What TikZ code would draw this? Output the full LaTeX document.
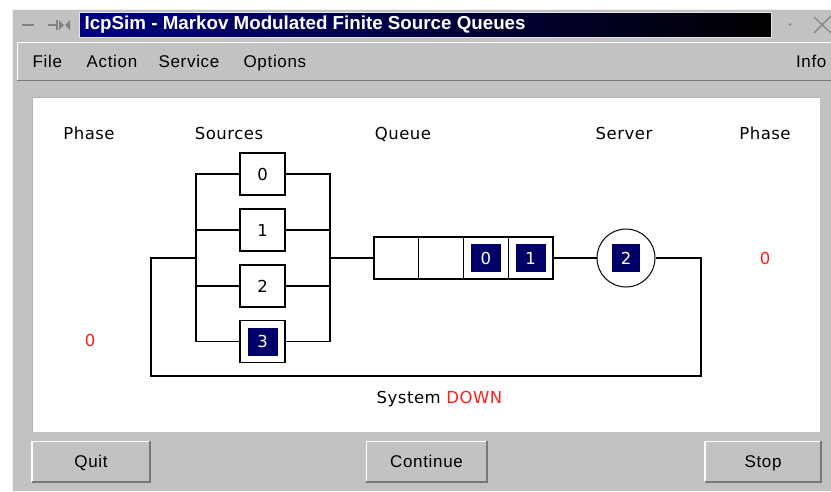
\documentclass[tikz,border=0pt]{standalone}
\usepackage{fontspec}
\setmainfont{DejaVu Sans}
\newfontfamily\diafont[LetterSpace=3]{DejaVu Sans}
\newfontfamily\menufont[LetterSpace=4]{Liberation Sans}
\newfontfamily\titlefont{Liberation Sans}
\definecolor{guigray}{RGB}{194,194,194}
\definecolor{darkedge}{RGB}{120,120,120}
\definecolor{navyq}{RGB}{0,0,104}
\definecolor{titlenavy}{RGB}{0,0,128}
\definecolor{redtxt}{RGB}{255,30,30}
\definecolor{icongray}{RGB}{130,130,130}
\begin{document}
\begin{tikzpicture}[x=1pt,y=-1pt,
  line width=1.2pt,
  dtext/.style={font=\diafont\fontsize{16.5}{18}\selectfont, inner sep=0pt, text height=12pt, text depth=0pt},
  mtext/.style={font=\menufont\fontsize{17}{19}\selectfont, inner sep=0pt, text height=12.2pt, text depth=0pt},
  srcbox/.style={draw=black, fill=white, minimum width=45pt, minimum height=42pt, inner sep=0pt, font=\diafont\fontsize{16.5}{18}\selectfont, text height=12pt, text depth=0pt},
  qcell/.style={draw=black, fill=white, minimum width=44.75pt, minimum height=42pt, inner sep=0pt},
  token/.style={fill=navyq, text=white, minimum width=30pt, minimum height=28pt, inner sep=0pt, font=\diafont\fontsize{16.5}{18}\selectfont, text height=12pt, text depth=0pt},
  wire/.style={draw=black, line width=1.2pt},
  button/.style={fill=guigray, minimum width=#1, minimum height=39pt, inner sep=0pt, font=\menufont\fontsize{17}{19}\selectfont, text height=12.2pt, text depth=0pt}
]
\useasboundingbox (0,0) rectangle (831,491);
% window background
\fill[white] (0,0) rectangle (831,491);
\fill[guigray] (12,9) rectangle (831,491);
\draw[line width=1pt, white!90!gray] (12.5,491) -- (12.5,9.5) -- (831,9.5);
% title bar
\draw[icongray, line width=1.4pt] (22,25) -- (34,25);
\draw[icongray, line width=1.2pt] (48,25) -- (57,25) (57,20) -- (57,30);
\fill[icongray] (59,20) -- (64,25) -- (59,30) -- cycle (70,20) -- (65,25) -- (70,30) -- cycle;
\shade[left color=titlenavy, right color=black] (79,12) rectangle (771,37.5);
\draw[line width=0.8pt, white!80!gray] (79,12) rectangle (771,37.5);
\node[anchor=west, inner sep=0pt, text=white] (title) at (84,24.5)
  {\resizebox{441pt}{!}{\titlefont\fontsize{19}{21}\bfseries IcpSim - Markov Modulated Finite Source Queues}};
\fill[icongray] (790,24.5) circle (1.3pt);
\draw[icongray, line width=1.2pt] (814,17) -- (831,33) (831,16) -- (814,33);
% menu bar
\fill[guigray] (17,42) rectangle (831,81);
\draw[white, line width=1.5pt] (17.5,81) -- (17.5,42.5) -- (831,42.5);
\draw[darkedge, line width=1.8pt] (17,80.5) -- (831,80.5);
\node[mtext, anchor=west] (mfile) at (32,61) {File};
\node[mtext, anchor=west] (maction) at (86,61) {Action};
\node[mtext, anchor=west] (mservice) at (158,61) {Service};
\node[mtext, anchor=west] (moptions) at (243,61) {Options};
\node[mtext, anchor=east] (minfo) at (827,61) {Info};
% canvas
\fill[white] (32,97) rectangle (820,432);
\draw[line width=0.8pt, gray!60] (32,432) -- (32,97) -- (820,97);
% header labels
\node[dtext] (hphase1) at (89,133.5) {Phase};
\node[dtext] (hsources) at (229,133.5) {Sources};
\node[dtext] (hqueue) at (403,133.5) {Queue};
\node[dtext] (hserver) at (624,133.5) {Server};
\node[dtext] (hphase2) at (765,133.5) {Phase};
% sources
\node[srcbox] (src0) at (262.5,174) {0};
\node[srcbox] (src1) at (262.5,230) {1};
\node[srcbox] (src2) at (262.5,286) {2};
\node[srcbox] (src3) at (262.5,341.5) {};
\node[token] (tok3) at (src3.center) {3};
\coordinate (busL) at (196,258);
\coordinate (busR) at (330,258);
\coordinate (feedL) at (151,258);
\coordinate (lc) at (151,376);
\coordinate (rc) at (701,376);
\draw[wire] (src0.west) -| (busL) |- (src3.west);
\draw[wire] (src1.west) -- (src1.west -| busL);
\draw[wire] (src2.west) -- (src2.west -| busL);
\draw[wire] (src0.east) -| (busR) |- (src3.east);
\draw[wire] (src1.east) -- (src1.east -| busR);
\draw[wire] (src2.east) -- (src2.east -| busR);
% queue
\node[qcell] (q1) at (396.4,258) {};
\node[qcell] (q2) at (441.1,258) {};
\node[qcell] (q3) at (485.9,258) {};
\node[qcell] (q4) at (530.6,258) {};
\node[token] (tq3) at (q3.center) {0};
\node[token] (tq4) at (q4.center) {1};
\draw[wire] (busR) -- (q1.west);
% server
\node[draw=black, line width=1pt, circle, minimum size=58pt, inner sep=0pt, fill=white] (server) at (626,258) {};
\node[token, minimum width=28.5pt] (tsrv) at (server.center) {2};
\draw[wire] (q4.east) -- (server.west);
\draw[wire] (server.east) -| (rc) -- (lc) |- (busL);
% phase values
\node[dtext, text=redtxt] (ph1) at (90,340) {0};
\node[dtext, text=redtxt] (ph2) at (765,258) {0};
\node[dtext] (status) at (439.5,397.5) {System \textcolor{redtxt}{DOWN}};
% buttons
\foreach \nm/\cx/\w/\txt in {bquit/91/117/Quit, bcont/426.5/119/Continue, bstop/763/115/Stop}{
  \node[button=\w pt] (\nm) at (\cx,461.5) {\txt};
  \draw[white, line width=1.5pt] (\nm.south west) -- (\nm.north west) -- (\nm.north east);
  \draw[darkedge, line width=1.8pt] (\nm.south west) -- (\nm.south east) -- (\nm.north east);
}
\end{tikzpicture}
\end{document}
